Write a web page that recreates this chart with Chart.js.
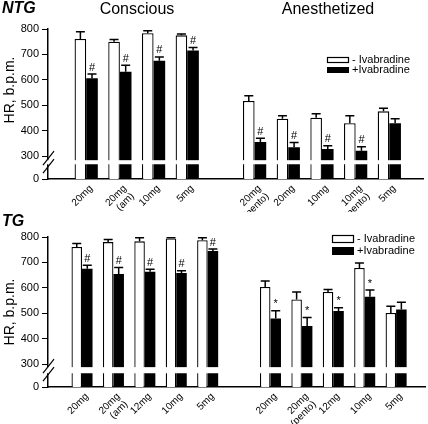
<!DOCTYPE html>
<html>
<head>
<meta charset="utf-8">
<script src="https://cdn.jsdelivr.net/npm/chart.js@4.4.0/dist/chart.umd.min.js"></script>
<style>
  body { margin: 0; background: #fff; }
  canvas { display: block; }
</style>
</head>
<body>
<canvas id="ntgChart" width="428" height="212"></canvas>
<canvas id="tgChart" width="428" height="212"></canvas>
<script>
// NTG panel
var ntgConsciousLabels = ['20mg', ['20mg', '(am)'], '10mg', '5mg'];
var ntgAnesthLabels = [['20mg', '(pento)'], '20mg', '10mg', ['10mg', '(pento)'], '5mg'];
var ntgControl    = [761, 750, 783, 775, 517, 447, 451, 429, 476];
var ntgControlErr = [28, 9, 10, 5, 20, 12, 16, 30, 12];
var ntgIvab       = [606, 632, 675, 715, 356, 335, 328, 321, 429];
var ntgIvabErr    = [17, 25, 15, 12, 14, 19, 13, 16, 18];
var ntgMarks      = ['#', '#', '#', '#', '#', '#', '#', '#', ''];

// TG panel
var tgConsciousLabels = ['20mg', ['20mg', '(am)'], '12mg', '10mg', '5mg'];
var tgAnesthLabels = ['20mg', ['20mg', '(pento)'], '12mg', '10mg', '5mg'];
var tgControl    = [761, 780, 783, 794, 787, 604, 555, 584, 678, 502];
var tgControlErr = [13, 10, 14, 3, 10, 23, 29, 10, 20, 26];
var tgIvab       = [675, 655, 664, 659, 745, 480, 451, 509, 565, 515];
var tgIvabErr    = [14, 25, 9, 8, 8, 30, 33, 13, 27, 29];
var tgMarks      = ['#', '#', '#', '#', '#', '*', '*', '*', '*', ''];

var yTicks = [0, 300, 400, 500, 600, 700, 800];
var seriesNames = ['- Ivabradine', '+Ivabradine'];

Chart.defaults.font.family = '"Liberation Sans", Arial, sans-serif';
Chart.defaults.color = '#000';

function makePanel(id, p) {
  var nC = p.conscious.length;
  var labels = p.conscious.concat(p.anesth);
  // category slots: conscious 1..nC, one empty slot, then anesthetized
  var slots = labels.map(function(l, i) { return i < nC ? i + 1 : i + 2; });
  var labelAt = {};
  slots.forEach(function(s, i) { labelAt[s] = labels[i]; });

  var decor = {
    id: 'decor',
    afterDatasetsDraw: function(chart) {
      var ctx = chart.ctx, a = chart.chartArea, y = chart.scales.y;
      // axis break band
      var yHi = y.getPixelForValue(p.band[1]), yLo = y.getPixelForValue(p.band[0]);
      ctx.save();
      ctx.fillStyle = '#fff';
      ctx.fillRect(a.left - 2, yHi, a.right - a.left + 2, yLo - yHi);
      ctx.strokeStyle = '#000';
      ctx.lineWidth = 1.2;
      var yc = (yHi + yLo) / 2;
      [-4, 4].forEach(function(d) {
        ctx.beginPath();
        ctx.moveTo(a.left - 5, yc + 7 + d);
        ctx.lineTo(a.left + 6, yc - 7 + d);
        ctx.stroke();
      });
      // error bars + marks
      var errs = [p.controlErr, p.ivabErr];
      ctx.lineWidth = 1.5;
      ctx.fillStyle = '#000';
      ctx.font = '11px "Liberation Sans", Arial, sans-serif';
      ctx.textAlign = 'center';
      ctx.textBaseline = 'bottom';
      chart.data.datasets.forEach(function(ds, di) {
        chart.getDatasetMeta(di).data.forEach(function(bar, i) {
          var v = ds.data[i].y, top = y.getPixelForValue(v + errs[di][i]);
          ctx.beginPath();
          ctx.moveTo(bar.x, bar.y);
          ctx.lineTo(bar.x, top);
          ctx.moveTo(bar.x - 4.5, top);
          ctx.lineTo(bar.x + 4.5, top);
          ctx.stroke();
          if (di === 1 && p.marks[i]) {
            ctx.fillText(p.marks[i], bar.x, top - 1);
          }
        });
      });
      ctx.restore();
    },
    afterDraw: function(chart) {
      var ctx = chart.ctx;
      ctx.save();
      ctx.fillStyle = '#000';
      ctx.textBaseline = 'alphabetic';
      ctx.textAlign = 'left';
      ctx.font = 'italic bold 16px "Liberation Sans", Arial, sans-serif';
      ctx.fillText(p.title, 2, p.titleY);
      if (p.groups) {
        ctx.textAlign = 'center';
        ctx.font = '16px "Liberation Sans", Arial, sans-serif';
        ctx.fillText('Conscious', 137, 14);
        ctx.fillText('Anesthetized', 328, 14);
      }
      // y axis title
      ctx.save();
      ctx.translate(10, p.yTitleY);
      ctx.rotate(-Math.PI / 2);
      ctx.textAlign = 'center';
      ctx.textBaseline = 'middle';
      ctx.font = '14px "Liberation Sans", Arial, sans-serif';
      ctx.fillText('HR, b.p.m.', 0, 0);
      ctx.restore();
      // legend
      var L = p.legend;
      ctx.lineWidth = 1.2;
      ctx.strokeStyle = '#000';
      ctx.fillStyle = '#fff';
      ctx.fillRect(L.x, L.y1, 22, L.h);
      ctx.strokeRect(L.x + 0.5, L.y1 + 0.5, 21, L.h - 1);
      ctx.fillStyle = '#000';
      ctx.fillRect(L.x, L.y2, 22, L.h);
      ctx.font = '11px "Liberation Sans", Arial, sans-serif';
      ctx.textAlign = 'left';
      ctx.textBaseline = 'middle';
      ctx.fillText(seriesNames[0], L.x + 25, L.y1 + L.h / 2);
      ctx.fillText(seriesNames[1], L.x + 25, L.y2 + L.h / 2);
      ctx.restore();
    }
  };

  new Chart(document.getElementById(id).getContext('2d'), {
    type: 'bar',
    data: {
      datasets: [
        {
          label: seriesNames[0],
          data: slots.map(function(s, i) { return {x: s, y: p.control[i]}; }),
          backgroundColor: '#fff', borderColor: '#000', borderWidth: 1.3,
          categoryPercentage: p.cp, barPercentage: 1
        },
        {
          label: seriesNames[1],
          data: slots.map(function(s, i) { return {x: s, y: p.ivab[i]}; }),
          backgroundColor: '#000', borderColor: '#000', borderWidth: 0,
          categoryPercentage: p.cp, barPercentage: 1
        }
      ]
    },
    options: {
      responsive: false,
      animation: false,
      layout: {padding: {top: p.padTop, right: p.padRight, left: 0, bottom: 0}},
      plugins: {legend: {display: false}, tooltip: {enabled: false}},
      scales: {
        x: {
          type: 'linear', min: p.xMin, max: p.xMax, offset: false,
          grid: {display: false, drawTicks: false},
          border: {display: true, color: '#000', width: 1.5},
          afterBuildTicks: function(s) { s.ticks = slots.map(function(v) { return {value: v}; }); },
          afterFit: function(s) { s.height = p.xHeight; },
          ticks: {
            autoSkip: false, minRotation: 45, maxRotation: 45, padding: 4, labelOffset: 5,
            font: {size: 10, lineHeight: 1.1},
            callback: function(v) { return labelAt[v]; }
          }
        },
        y: {
          min: p.floor, max: 800,
          grid: {display: true, drawOnChartArea: false, drawTicks: true, tickLength: 6, color: '#000'},
          border: {display: true, color: '#000', width: 1.5},
          afterBuildTicks: function(s) {
            s.ticks = yTicks.map(function(v) { return {value: v === 0 ? p.floor : v}; });
          },
          afterFit: function(s) { s.width = 48; },
          ticks: {
            padding: 3, font: {size: 11},
            callback: function(v) { return v === p.floor ? '0' : v; }
          }
        }
      }
    },
    plugins: [decor]
  });
}

makePanel('ntgChart', {
  conscious: ntgConsciousLabels, anesth: ntgAnesthLabels,
  control: ntgControl, controlErr: ntgControlErr,
  ivab: ntgIvab, ivabErr: ntgIvabErr, marks: ntgMarks,
  title: 'NTG', titleY: 13, groups: true, yTitleY: 90,
  floor: 210, band: [268, 284], xMin: -0.134, xMax: 11.0, cp: 0.69,
  padTop: 29, padRight: 5, xHeight: 33,
  legend: {x: 327, y1: 57, y2: 67, h: 6}
});

makePanel('tgChart', {
  conscious: tgConsciousLabels, anesth: tgAnesthLabels,
  control: tgControl, controlErr: tgControlErr,
  ivab: tgIvab, ivabErr: tgIvabErr, marks: tgMarks,
  title: 'TG', titleY: 14, groups: false, yTitleY: 100,
  floor: 211, band: [265, 289], xMin: -0.083, xMax: 11.92, cp: 0.67,
  padTop: 25, padRight: 3, xHeight: 37,
  legend: {x: 332, y1: 23, y2: 35, h: 8}
});
</script>
</body>
</html>
